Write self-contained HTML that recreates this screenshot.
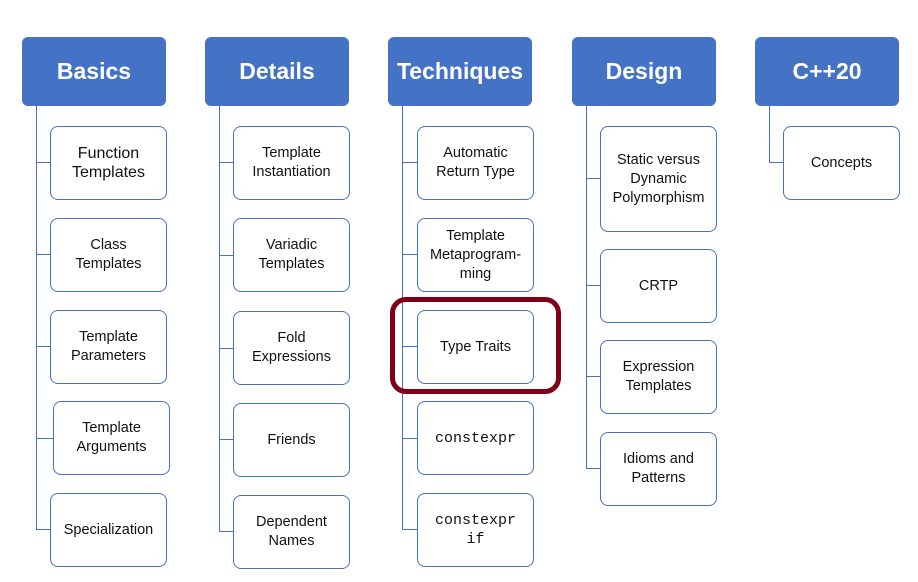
<!DOCTYPE html>
<html><head><style>
body{margin:0;width:918px;height:582px;background:#fff;position:relative;overflow:hidden;font-family:"Liberation Sans",sans-serif}
.h{position:absolute;width:144px;height:69px;background:#4472c4;border-radius:6px;color:#fff;font-weight:bold;font-size:23px;display:flex;align-items:center;justify-content:center;top:37px}
.c{position:absolute;width:115px;height:72px;border:1px solid #4472c4;border-radius:8px;background:#fff;display:flex;align-items:center;justify-content:center;text-align:center;font-size:14.5px;color:#111;line-height:19px}
.v{position:absolute;width:1px;background:#4472c4;top:106px}
.hl{position:absolute;height:1px;background:#4472c4}
.m{font-family:"Liberation Mono",monospace;font-size:15px}
</style></head><body>
<div class="h" style="left:22px">Basics</div>
<div class="h" style="left:205px">Details</div>
<div class="h" style="left:388px">Techniques</div>
<div class="h" style="left:572px">Design</div>
<div class="h" style="left:755px">C++20</div>

<div class="v" style="left:36px;height:423px"></div>
<div class="hl" style="left:36px;top:162px;width:14px"></div>
<div class="hl" style="left:36px;top:254px;width:14px"></div>
<div class="hl" style="left:36px;top:346px;width:14px"></div>
<div class="hl" style="left:36px;top:438px;width:17px"></div>
<div class="hl" style="left:36px;top:529px;width:14px"></div>
<div class="c" style="left:50px;top:126px;font-size:16px">Function<br>Templates</div>
<div class="c" style="left:50px;top:218px">Class<br>Templates</div>
<div class="c" style="left:50px;top:310px">Template<br>Parameters</div>
<div class="c" style="left:53px;top:401px">Template<br>Arguments</div>
<div class="c" style="left:50px;top:493px">Specialization</div>

<div class="v" style="left:219px;height:425px"></div>
<div class="hl" style="left:219px;top:162px;width:14px"></div>
<div class="hl" style="left:219px;top:255px;width:14px"></div>
<div class="hl" style="left:219px;top:348px;width:14px"></div>
<div class="hl" style="left:219px;top:439px;width:14px"></div>
<div class="hl" style="left:219px;top:531px;width:14px"></div>
<div class="c" style="left:233px;top:126px">Template<br>Instantiation</div>
<div class="c" style="left:233px;top:218px">Variadic<br>Templates</div>
<div class="c" style="left:233px;top:311px">Fold<br>Expressions</div>
<div class="c" style="left:233px;top:403px">Friends</div>
<div class="c" style="left:233px;top:495px">Dependent<br>Names</div>

<div class="v" style="left:402px;height:423px"></div>
<div class="hl" style="left:402px;top:162px;width:15px"></div>
<div class="hl" style="left:402px;top:254px;width:15px"></div>
<div class="hl" style="left:402px;top:346px;width:15px"></div>
<div class="hl" style="left:402px;top:438px;width:15px"></div>
<div class="hl" style="left:402px;top:529px;width:15px"></div>
<div class="c" style="left:417px;top:126px">Automatic<br>Return Type</div>
<div class="c" style="left:417px;top:218px">Template<br>Metaprogram-<br>ming</div>
<div class="c" style="left:417px;top:310px">Type Traits</div>
<div class="c m" style="left:417px;top:401px">constexpr</div>
<div class="c m" style="left:417px;top:493px">constexpr<br>if</div>
<div style="position:absolute;left:390px;top:297px;width:161px;height:87px;border:5px solid #800018;border-radius:16px"></div>

<div class="v" style="left:586px;height:362px"></div>
<div class="hl" style="left:586px;top:178px;width:14px"></div>
<div class="hl" style="left:586px;top:285px;width:14px"></div>
<div class="hl" style="left:586px;top:376px;width:14px"></div>
<div class="hl" style="left:586px;top:468px;width:14px"></div>
<div class="c" style="left:600px;top:126px;height:104px">Static versus<br>Dynamic<br>Polymorphism</div>
<div class="c" style="left:600px;top:249px">CRTP</div>
<div class="c" style="left:600px;top:340px">Expression<br>Templates</div>
<div class="c" style="left:600px;top:432px">Idioms and<br>Patterns</div>

<div class="v" style="left:769px;height:57px"></div>
<div class="hl" style="left:769px;top:162px;width:14px"></div>
<div class="c" style="left:783px;top:126px">Concepts</div>
</body></html>
